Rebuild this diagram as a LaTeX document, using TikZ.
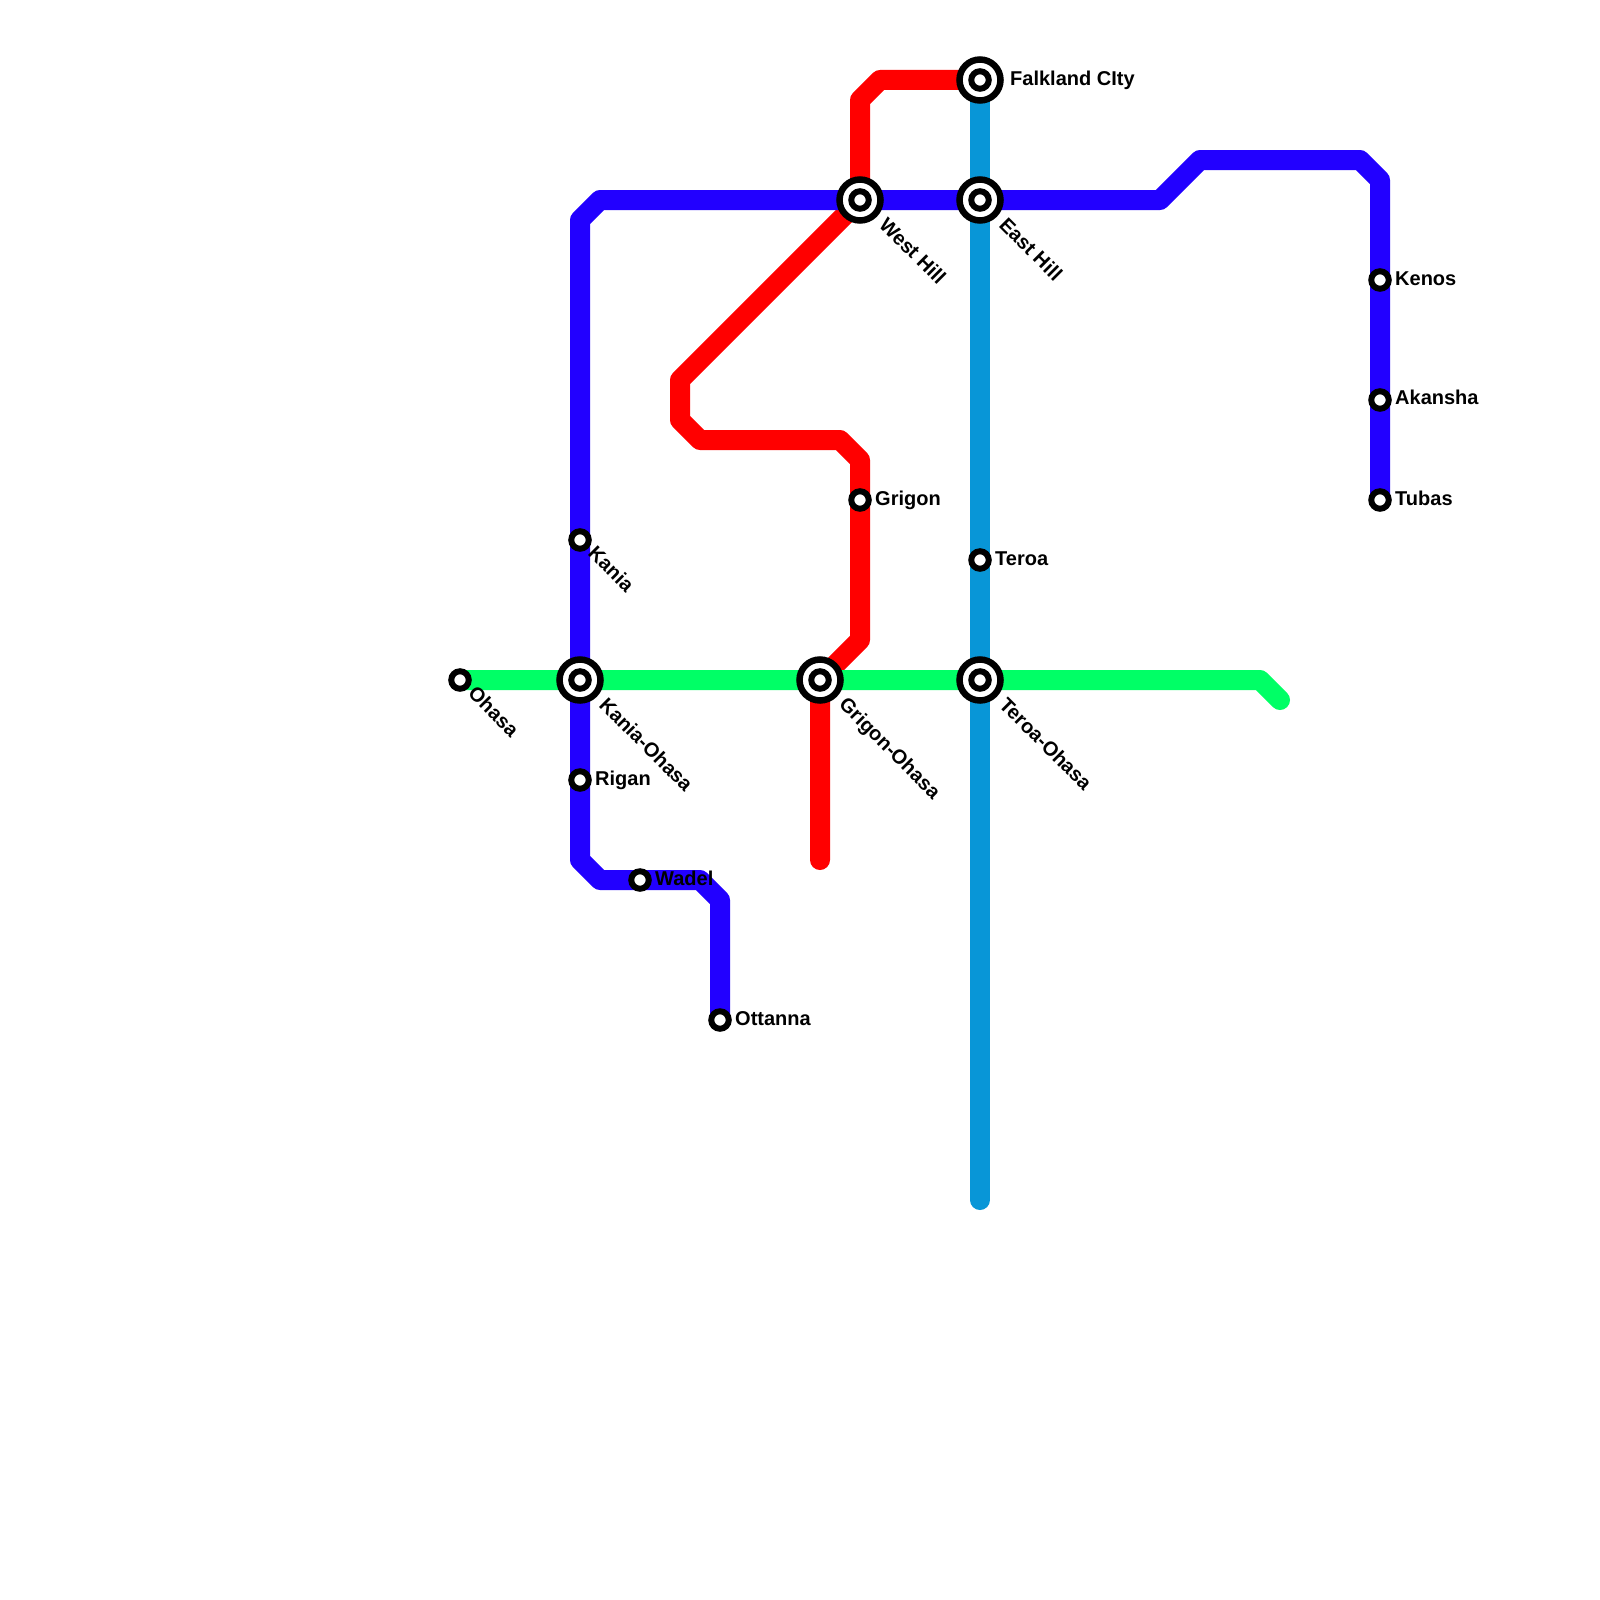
\documentclass[tikz,border=0pt]{standalone}
\usepackage{fontspec}
\setmainfont{Liberation Sans}
\pgfdeclarelayer{lines}
\pgfsetlayers{lines,main}
\definecolor{lineblue}{HTML}{2200FF}
\definecolor{linered}{HTML}{FF0000}
\definecolor{linegreen}{HTML}{00FF66}
\definecolor{linecyan}{HTML}{0896D7}
\tikzset{
  metro/.style={line width=20pt,line cap=round,line join=round},
  stopring/.style={circle,draw=black,fill=white,line width=6pt,minimum size=17.5pt,inner sep=0pt},
  hubring/.style={circle,draw=black,fill=white,line width=6.5pt,minimum size=41pt,inner sep=0pt},
  lab/.style={anchor=base west,inner sep=0pt,font=\bfseries\fontsize{20}{20}\selectfont,text=black},
  diag/.style={lab,rotate=-45}
}
\newcommand{\hubstop}[2]{\node[hubring] (#1) at (#2) {};\node[stopring] (#1-dot) at (#1.center) {};}
\begin{document}
\begin{tikzpicture}[x=1pt,y=-1pt]
\useasboundingbox (0,0) rectangle (1600,1600);
% stations
\hubstop{falkland}{980,80}
\hubstop{easthill}{980,200}
\hubstop{westhill}{860,200}
\hubstop{kaniaohasa}{580,680}
\hubstop{grigonohasa}{820,680}
\hubstop{teroaohasa}{980,680}
\node[stopring] (ohasa) at (460,680) {};
\node[stopring] (kania) at (580,540) {};
\node[stopring] (rigan) at (580,780) {};
\node[stopring] (wadel) at (640,880) {};
\node[stopring] (ottanna) at (720,1020) {};
\node[stopring] (grigon) at (860,500) {};
\node[stopring] (teroa) at (980,560) {};
\node[stopring] (kenos) at (1380,280) {};
\node[stopring] (akansha) at (1380,400) {};
\node[stopring] (tubas) at (1380,500) {};
% free line ends
\coordinate (redend) at (820,860);
\coordinate (greenend) at (1280,700);
\coordinate (cyanend) at (980,1200);
\begin{pgfonlayer}{lines}
\fill[white] (0,0) rectangle (1600,1600);
\draw[metro,linecyan] (falkland.center) -- (cyanend);
\draw[metro,linered] (redend) -- (grigonohasa.center) -- (860,640) -- (grigon.center) -- (860,460) -- (840,440) -- (700,440) -- (680,420) -- (680,380) -- (westhill.center) -- (860,100) -- (880,80) -- (falkland.center);
\draw[metro,linegreen] (ohasa.center) -- (kaniaohasa.center) -- (grigonohasa.center) -- (teroaohasa.center) -- (1260,680) -- (greenend);
\draw[metro,lineblue] (ottanna.center) -- (720,900) -- (700,880) -- (wadel.center) -- (600,880) -- (580,860) -- (rigan.center) -- (kaniaohasa.center) -- (kania.center) -- (580,220) -- (600,200) -- (westhill.center) -- (easthill.center) -- (1160,200) -- (1200,160) -- (1360,160) -- (1380,180) -- (kenos.center) -- (akansha.center) -- (tubas.center);
\end{pgfonlayer}
% labels
\node[lab] (lfalkland) at (1010,85.5) {Falkland CIty};
\node[lab] (lgrigon) at (875,505) {Grigon};
\node[lab] (lteroa) at (995,565) {Teroa};
\node[lab] (lrigan) at (595,785) {Rigan};
\node[lab] (lwadel) at (655,885) {Wadel};
\node[lab] (lottanna) at (735,1025) {Ottanna};
\node[lab] (lkenos) at (1395,285) {Kenos};
\node[lab] (lakansha) at (1395,404.5) {Akansha};
\node[lab] (ltubas) at (1395,505) {Tubas};
\node[diag] (lwesthill) at (878,226) {West Hill};
\node[diag] (leasthill) at (998,226) {East Hill};
\node[diag] (lkaniaohasa) at (598,706) {Kania-Ohasa};
\node[diag] (lgrigonohasa) at (838,705.5) {Grigon-Ohasa};
\node[diag] (lteroaohasa) at (998,706) {Teroa-Ohasa};
\node[diag] (lohasa) at (467,694.5) {Ohasa};
\node[diag] (lkania) at (587,554.5) {Kania};
\end{tikzpicture}
\end{document}
